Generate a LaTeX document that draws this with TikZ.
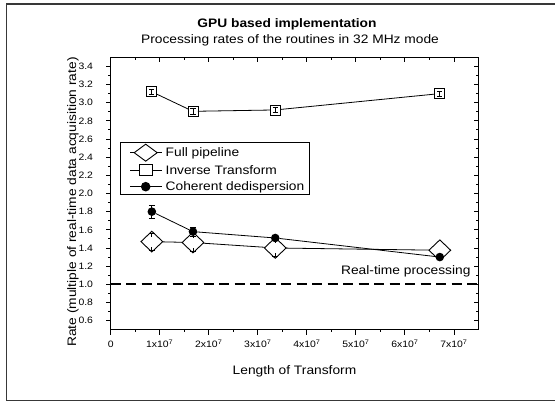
\documentclass[tikz,border=0pt]{standalone}
\usepackage{graphicx}
\usepackage{fontspec}
\setmainfont{Liberation Sans}
\usetikzlibrary{shapes.geometric,calc}

% text set slightly wider than the font's natural width
\newcommand\wide[1]{\scalebox{1.12}[1]{#1}}
% error bar drawn over a marker: full vertical line with caps
\newcommand\fullbar[3]{%
  \draw[errline] ($(#1)+(0,#2)$) -- ($(#1)-(0,#2)$)
    ($(#1)+(0,#2)$) ++(-#3,0) -- ++(2*#3,0)
    ($(#1)-(0,#2)$) ++(-#3,0) -- ++(2*#3,0);}
% error bar shown only as two short tees inside a large marker
\newcommand\teebar[4]{%
  \draw[errline] ($(#1)+(0,#2)$) -- ($(#1)+(0,#3)$)
    ($(#1)-(0,#2)$) -- ($(#1)-(0,#3)$)
    ($(#1)+(0,#2)$) ++(-#4,0) -- ++(2*#4,0)
    ($(#1)-(0,#2)$) ++(-#4,0) -- ++(2*#4,0);}

\begin{document}
\begin{tikzpicture}[x=1pt,y=1pt,
  every node/.style={inner sep=0pt, outer sep=0pt},
  frameline/.style={draw=black!78, line width=1.4pt},
  axisline/.style={line width=1.1pt},
  tickline/.style={line width=0.9pt},
  ticklab/.style={font=\fontsize{9.3}{11}\selectfont},
  labfont/.style={font=\fontsize{12.3}{14}\selectfont},
  dataline/.style={line width=0.8pt},
  fpmark/.style={shape=diamond, draw, fill=white, line width=0.9pt,
    minimum width=21.7pt, minimum height=20.7pt},
  itmark/.style={shape=rectangle, draw, fill=white, line width=0.9pt,
    minimum size=10pt},
  cdmark/.style={shape=circle, fill=black, minimum size=8.6pt},
  errline/.style={line width=0.7pt},
  rtline/.style={line width=2.2pt, dash pattern=on 10pt off 5.5pt},
  legbox/.style={draw, line width=1.1pt, fill=white},
]
\useasboundingbox (0,0) rectangle (555,403);

% outer frame (open on the right)
\draw[frameline] (580,399) -| (6.5,2.3) -- (580,2.3);

% titles
\node[font=\bfseries\fontsize{12.3}{14}\selectfont, anchor=base] (title)
  at (287,375.3) {\wide{GPU based implementation}};
\node[labfont, anchor=base] (subtitle)
  at (290,359.7) {\wide{Processing rates of the routines in 32 MHz mode}};

% axis titles
\node[labfont, anchor=base] (xtitle) at (294.5,28.7) {\wide{Length of Transform}};
\node[labfont, anchor=base, rotate=90] (ytitle) at (76.2,201)
  {\wide{Rate (multiple of real-time data acquisition rate)}};

\begin{scope}[shift={(110.7pt,27.9pt)}, x=49.04pt, y=90.8pt]
  % real-time threshold
  \draw[rtline] (0,1) -- (7.5,1);

  % plot frame
  \draw[axisline] (0,0.5) rectangle (7.5,3.5);

  % y ticks
  \foreach \v [count=\k] in {0.6,0.8,1.0,1.2,1.4,1.6,1.8,2.0,2.2,2.4,2.6,2.8,3.0,3.2,3.4} {
    \draw[tickline] (0,\v) -- ++(-4.5pt,0);
    \draw[tickline] (7.5,\v) -- ++(-4.5pt,0);
    \node[ticklab, anchor=east] (ylab\k) at ([xshift=-17.7pt]0,\v) {\wide{\v}};
  }
  \foreach \v in {0.7,0.9,1.1,1.3,1.5,1.7,1.9,2.1,2.3,2.5,2.7,2.9,3.1,3.3} {
    \draw[tickline] (0,\v) -- ++(-2.6pt,0);
    \draw[tickline] (7.5,\v) -- ++(-2.6pt,0);
  }
  % x ticks
  \foreach \u in {0,...,7} {
    \draw[tickline] (\u,0.5) -- ++(0,-5pt);
    \draw[tickline] (\u,3.5) -- ++(0,-5pt);
  }
  \foreach \u in {0.5,1.5,2.5,3.5,4.5,5.5,6.5} {
    \draw[tickline] (\u,0.5) -- ++(0,-2.7pt);
    \draw[tickline] (\u,3.5) -- ++(0,-2.7pt);
  }
  \node[ticklab, anchor=base] (xlab0) at ([yshift=-18.3pt]0,0.5) {\wide{0}};
  \foreach \u in {1,...,7} {
    \node[ticklab, anchor=base] (xlab\u) at ([yshift=-18.3pt]\u,0.5)
      {\wide{\u x10\textsuperscript{7}}};
  }

  % Inverse Transform
  \node[itmark] (it1) at (0.8389,3.12) {};
  \node[itmark] (it2) at (1.6777,2.905) {};
  \node[itmark] (it3) at (3.3554,2.92) {};
  \node[itmark] (it4) at (6.7109,3.10) {};
  \draw[dataline] (it1) -- (it2) -- (it3) -- (it4);
  \foreach \n in {it1,it2,it3,it4} {\fullbar{\n}{0.028}{2.6pt}}

  % Full pipeline
  \node[fpmark] (fp1) at (0.8389,1.47) {};
  \node[fpmark] (fp2) at (1.6777,1.46) {};
  \node[fpmark] (fp3) at (3.3554,1.40) {};
  \node[fpmark] (fp4) at (6.7109,1.375) {};
  \draw[dataline] (fp1) -- (fp2) -- (fp3) -- (fp4);
  \foreach \n in {fp1,fp2,fp3} {\teebar{\n}{0.095}{0.055}{3pt}}

  % Coherent dedispersion
  \node[cdmark] (cd1) at (0.8389,1.80) {};
  \node[cdmark] (cd2) at (1.6777,1.58) {};
  \node[cdmark] (cd3) at (3.3554,1.51) {};
  \node[cdmark] (cd4) at (6.7109,1.30) {};
  \draw[dataline] (cd1) -- (cd2) -- (cd3) -- (cd4);
  \fullbar{cd1}{0.07}{3pt}
  \fullbar{cd2}{0.05}{3pt}
\end{scope}

\node[labfont, anchor=base east] (rtlabel) at (470.5,128) {\wide{Real-time processing}};

% legend
\node[legbox, anchor=north west, minimum width=189pt, minimum height=52.2pt]
  (legend) at (120.7,260.7) {};
\coordinate (la1) at (130,250.3);  \coordinate (lb1) at (161.7,250.3);
\coordinate (la2) at (130,233);    \coordinate (lb2) at (161.7,233);
\coordinate (la3) at (130,216.3);  \coordinate (lb3) at (161.7,216.3);
\draw[dataline] (la1) -- (lb1) (la2) -- (lb2) (la3) -- (lb3);
\node[fpmark, minimum width=23pt, minimum height=17pt] (lfp) at (145.7,250.3) {};
\node[itmark, minimum width=13pt, minimum height=10.5pt] (lit) at (145.7,233) {};
\node[cdmark, minimum size=9.6pt] (lcd) at (145.7,216.3) {};
\node[labfont, anchor=base west] (lt1) at (165.7,246) {\wide{Full pipeline}};
\node[labfont, anchor=base west] (lt2) at (165.7,228.7) {\wide{Inverse Transform}};
\node[labfont, anchor=base west] (lt3) at (165.7,212) {\wide{Coherent dedispersion}};
\end{tikzpicture}
\end{document}
